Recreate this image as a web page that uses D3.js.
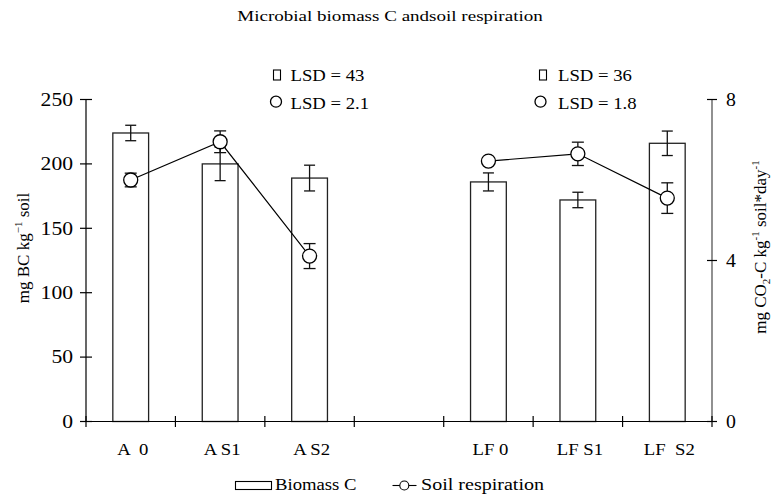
<!DOCTYPE html>
<html>
<head>
<meta charset="utf-8">
<script src="https://cdn.jsdelivr.net/npm/d3@7"></script>
<style>
  html, body { margin: 0; padding: 0; background: #fff; }
  svg { display: block; }
  text { font-family: "Liberation Serif", "Times New Roman", serif; fill: #000; white-space: pre; }
</style>
</head>
<body>
<svg id="chart" width="771" height="496"></svg>
<script>
// Treatments along the x axis (the blank slot separates the A and LF groups)
const categories = ["A  0", "A S1", "A S2", "", "LF 0", "LF S1", "LF  S2"];
// Microbial biomass C, mg BC per kg soil (bars, left axis)
const biomass    = [224, 200, 189, null, 186, 172, 216];
const biomassErr = [6, 13, 10, null, 7, 6, 9.5];
// Soil respiration, mg CO2-C per kg soil per day (circles, right axis)
const respiration    = [6.0, 6.95, 4.11, null, 6.47, 6.65, 5.55];
const respirationErr = [0.17, 0.27, 0.31, null, 0.08, 0.29, 0.38];
// Axis ticks
const leftTicks  = [0, 50, 100, 150, 200, 250];
const rightTicks = [0, 4, 8];
// Least significant differences for the two groups
const lsdBiomass     = [43, 36];
const lsdRespiration = [2.1, 1.8];

const SX = 1.1;           // horizontal text stretch
const FS = 17;            // base font size
const svg = d3.select("#chart");

const plot = { left: 86, right: 712, top: 99.5, bottom: 421.5 };

const x = d3.scaleBand().domain(categories).range([plot.left, plot.right]).paddingInner(0).paddingOuter(0);
const yL = d3.scaleLinear().domain([0, 250]).range([plot.bottom, plot.top]);
const yR = d3.scaleLinear().domain([0, 8]).range([plot.bottom, plot.top]);

function label(g, px, py, str, opts = {}) {
  const t = g.append("text")
    .attr("transform", `translate(${px},${py}) scale(${opts.sx ?? SX},1)`)
    .attr("font-size", opts.size ?? FS)
    .attr("text-anchor", opts.anchor ?? "start")
    .text(str);
  if (opts.dy) t.attr("dy", opts.dy);
  return t;
}

// Title
label(svg, 390, 21, "Microbial biomass C andsoil respiration", { anchor: "middle", size: 15, sx: 1.27 });

const rows = categories.map((c, i) => ({
  c, b: biomass[i], be: biomassErr[i], r: respiration[i], re: respirationErr[i]
}));
const cx = d => x(d.c) + x.bandwidth() / 2;
const barW = x.bandwidth() * 0.4;

// Bars
svg.append("g").selectAll("rect").data(rows.filter(d => d.b != null)).join("rect")
  .attr("x", d => cx(d) - barW / 2)
  .attr("y", d => yL(d.b))
  .attr("width", barW)
  .attr("height", d => yL(0) - yL(d.b))
  .attr("fill", "#fff")
  .attr("stroke", "#222")
  .attr("stroke-width", 1.3);

// Error bars helper
function errorBars(data, val, err, scale, cap) {
  const g = svg.append("g").attr("stroke", "#111").attr("stroke-width", 1.3).attr("fill", "none");
  data.forEach(d => {
    const v = val(d), e = err(d), xc = cx(d);
    g.append("line").attr("x1", xc).attr("x2", xc).attr("y1", scale(v - e)).attr("y2", scale(v + e));
    g.append("line").attr("x1", xc - cap).attr("x2", xc + cap).attr("y1", scale(v - e)).attr("y2", scale(v - e));
    g.append("line").attr("x1", xc - cap).attr("x2", xc + cap).attr("y1", scale(v + e)).attr("y2", scale(v + e));
  });
}
errorBars(rows.filter(d => d.b != null), d => d.b, d => d.be, yL, 5.5);

// Respiration line, broken between the two groups
const line = d3.line().defined(d => d.r != null).x(cx).y(d => yR(d.r));
svg.append("path").datum(rows).attr("d", line)
  .attr("fill", "none").attr("stroke", "#000").attr("stroke-width", 1.2);

errorBars(rows.filter(d => d.r != null), d => d.r, d => d.re, yR, 6);

svg.append("g").selectAll("circle").data(rows.filter(d => d.r != null)).join("circle")
  .attr("cx", cx).attr("cy", d => yR(d.r)).attr("r", 7)
  .attr("fill", "#fff").attr("stroke", "#000").attr("stroke-width", 1.3);

// Left axis
const axL = svg.append("g");
axL.append("line").attr("x1", plot.left).attr("x2", plot.left).attr("y1", yL(0)).attr("y2", yL(250))
  .attr("stroke", "#000").attr("stroke-width", 1.2);
leftTicks.forEach(t => {
  axL.append("line").attr("x1", plot.left - 6).attr("x2", plot.left + 6).attr("y1", yL(t)).attr("y2", yL(t))
    .attr("stroke", "#000").attr("stroke-width", 1.2);
  label(axL, 73, yL(t), String(t), { anchor: "end", dy: "0.35em", size: 18, sx: 1.2 });
});

// Right axis
const axR = svg.append("g");
axR.append("line").attr("x1", plot.right).attr("x2", plot.right).attr("y1", yR(0)).attr("y2", yR(8))
  .attr("stroke", "#555").attr("stroke-width", 1.3);
rightTicks.forEach(t => {
  axR.append("line").attr("x1", plot.right - 5).attr("x2", plot.right + 5).attr("y1", yR(t)).attr("y2", yR(t))
    .attr("stroke", "#000").attr("stroke-width", 1.2);
  label(axR, 726, yR(t), String(t), { dy: "0.35em", size: 18, sx: 1.1 });
});

// X axis with ticks on the band boundaries
const axX = svg.append("g");
axX.append("line").attr("x1", plot.left).attr("x2", plot.right).attr("y1", plot.bottom).attr("y2", plot.bottom)
  .attr("stroke", "#000").attr("stroke-width", 1.2);
const bounds = categories.map(c => x(c)).concat([x.range()[1]]);
bounds.forEach(b => {
  axX.append("line").attr("x1", b).attr("x2", b).attr("y1", plot.bottom - 5.5).attr("y2", plot.bottom + 5.5)
    .attr("stroke", "#000").attr("stroke-width", 1.2);
});
categories.forEach(c => {
  if (c) label(axX, x(c) + x.bandwidth() / 2 + 2, 455, c, { anchor: "middle" });
});

// Axis titles
const tL = svg.append("text")
  .attr("transform", `translate(29,248) rotate(-90)`)
  .attr("font-size", FS).attr("text-anchor", "middle");
tL.append("tspan").text("mg BC kg");
tL.append("tspan").attr("font-size", 11).attr("dy", -7).text("\u22121");
tL.append("tspan").attr("dy", 7).text(" soil");

const tR = svg.append("text")
  .attr("transform", `translate(765.5,247) rotate(-90)`)
  .attr("font-size", FS).attr("text-anchor", "middle");
tR.append("tspan").text("mg CO");
tR.append("tspan").attr("font-size", 11).attr("dy", 4).text("2");
tR.append("tspan").attr("dy", -4).text("-C kg");
tR.append("tspan").attr("font-size", 11).attr("dy", -7).text("-1");
tR.append("tspan").attr("dy", 7).text(" soil*day");
tR.append("tspan").attr("font-size", 11).attr("dy", -7).text("-1");

// LSD annotations
const lsdPos = [{ sq: 273.5, ci: 276, tx: 290.5 }, { sq: 539.5, ci: 540.5, tx: 558 }];
lsdPos.forEach((p, i) => {
  svg.append("rect").attr("x", p.sq).attr("y", 70).attr("width", 7).attr("height", 10)
    .attr("fill", "none").attr("stroke", "#000").attr("stroke-width", 1.1);
  label(svg, p.tx, 81, `LSD = ${lsdBiomass[i]}`);
  svg.append("circle").attr("cx", p.ci).attr("cy", 101.7).attr("r", 5.5)
    .attr("fill", "none").attr("stroke", "#000").attr("stroke-width", 1.3);
  label(svg, p.tx, 108.5, `LSD = ${lsdRespiration[i]}`);
});

// Legend
const lg = svg.append("g");
lg.append("rect").attr("x", 235.5).attr("y", 481.5).attr("width", 36).attr("height", 8)
  .attr("fill", "#fff").attr("stroke", "#000").attr("stroke-width", 1.1);
label(lg, 275, 490, "Biomass C");
lg.append("line").attr("x1", 392.5).attr("x2", 416.5).attr("y1", 485.5).attr("y2", 485.5)
  .attr("stroke", "#000").attr("stroke-width", 1.1);
lg.append("circle").attr("cx", 404.3).attr("cy", 485.5).attr("r", 4.5)
  .attr("fill", "#fff").attr("stroke", "#000").attr("stroke-width", 1.1);
label(lg, 421, 490, "Soil respiration", { sx: 1.18 });
</script>
</body>
</html>
